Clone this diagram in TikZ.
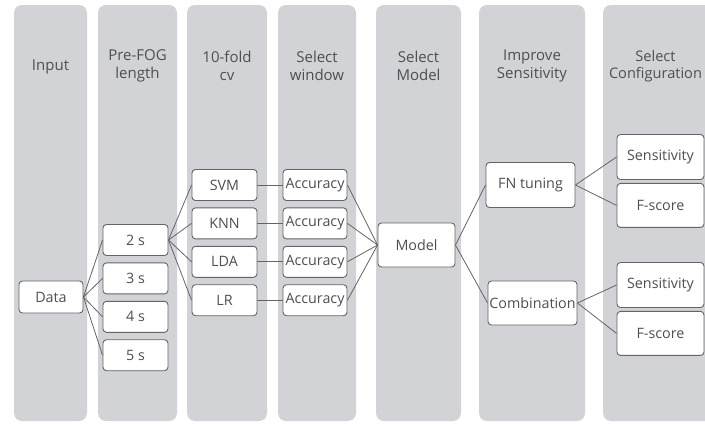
\documentclass[tikz,border=0pt]{standalone}
\usepackage{fontspec}
\setmainfont{Open Sans}
\usepackage{xcolor}
\definecolor{lanegray}{RGB}{210,211,214}
\definecolor{boxline}{RGB}{100,100,104}
\definecolor{txt}{RGB}{78,78,84}
\usepackage{tikz}
\usetikzlibrary{positioning}
\tikzset{
  lane/.style={fill=lanegray,rounded corners=8pt},
  head/.style={font=\fontsize{15}{17.5}\selectfont,text=txt,align=center},
  box/.style={draw=boxline,fill=white,rounded corners=3.5pt,line width=0.9pt,%
    font=\fontsize{14.3}{16}\selectfont,text=txt,inner sep=0pt,%
    minimum height=31pt,minimum width=64pt},
  wide/.style={box,minimum height=44pt},
  link/.style={draw=boxline,line width=0.8pt},
}

\begin{document}
\begin{tikzpicture}[x=1pt,y=-1pt,node distance=6.5pt]
\useasboundingbox (0,0) rectangle (705,424);
\clip (0,0) rectangle (705,424);
% columns
\foreach \xa/\xb in {14/87,98/177,187/267,278/356,376/461,479/585,603/740}
  \fill[lane] (\xa,5) rectangle (\xb,421);
% headers
\node[head] (hin)  at (50.5,67) {Input};
\node[head] (hpre) at (137.5,66) {Pre-FOG\\length};
\node[head] (hcv)  at (227,66) {10-fold\\cv};
\node[head] (hwin) at (317,66) {Select\\window};
\node[head] (hmod) at (418.5,66) {Select\\Model};
\node[head] (hsen) at (532,66) {Improve\\Sensitivity};
\node[head,font=\fontsize{14.6}{17.5}\selectfont] (hcfg) at (655.5,66) {Select\\Configuration};
% input and window lengths
\node[box,minimum height=32pt] (data) at (51,297) {Data};
\node[box,minimum width=65pt] (s2) at (135.5,240) {2 s};
\node[box,minimum width=65pt,below=of s2] (s3) {3 s};
\node[box,minimum width=65pt,below=of s3] (s4) {4 s};
\node[box,minimum width=65pt,below=of s4] (s5) {5 s};
% classifiers
\node[box,minimum width=65pt] (svm) at (224.5,185) {SVM};
\node[box,minimum width=65pt,below=of svm] (knn) {KNN};
\node[box,minimum width=65pt,below=of knn] (lda) {LDA};
\node[box,minimum width=65pt,below=of lda] (lr)  {LR};
\node[box] (acc1) at (315,185) {Accuracy};
\node[box,below=of acc1] (acc2) {Accuracy};
\node[box,below=of acc2] (acc3) {Accuracy};
\node[box,below=of acc3] (acc4) {Accuracy};
% model and tuning
\node[wide,minimum width=77pt] (model) at (416.5,245) {Model};
\node[wide,minimum width=89pt,minimum height=45pt] (fn) at (530.5,185) {FN tuning};
\node[wide,minimum width=89pt] (comb) at (532.5,303) {Combination};
\node[wide,minimum width=87pt,minimum height=45pt] (sens1) at (660.5,157) {Sensitivity};
\node[wide,minimum width=87pt,below=3pt of sens1] (fs1) {F-score};
\node[wide,minimum width=87pt,minimum height=45pt] (sens2) at (660.5,285) {Sensitivity};
\node[wide,minimum width=87pt,below=3pt of sens2] (fs2) {F-score};
% connectors
\foreach \t in {s2,s3,s4,s5} \draw[link] (data.east) -- (\t.west);
\foreach \t in {svm,knn,lda,lr} \draw[link] (s2.east) -- (\t.west);
\draw[link] (svm) -- (acc1);
\draw[link] (knn) -- (acc2);
\draw[link] (lda) -- (acc3);
\draw[link] (lr)  -- (acc4);
\foreach \a in {acc1,acc2,acc3,acc4} \draw[link] (\a.east) -- (model.west);
\draw[link] (model.east) -- (fn.west);
\draw[link] (model.east) -- (comb.west);
\draw[link] (fn.east) -- (sens1.west);
\draw[link] (fn.east) -- (fs1.west);
\draw[link] (comb.east) -- (sens2.west);
\draw[link] (comb.east) -- (fs2.west);
\end{tikzpicture}
\end{document}
